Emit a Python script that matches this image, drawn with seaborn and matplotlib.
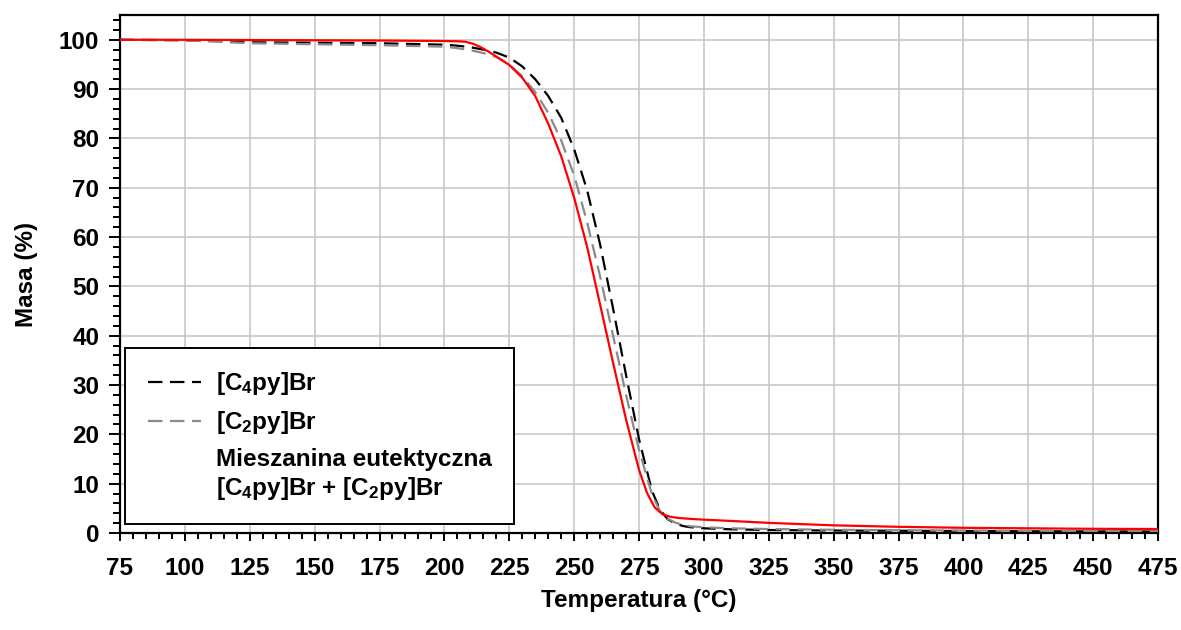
import matplotlib
matplotlib.use("Agg")
import matplotlib.pyplot as plt
import seaborn as sns
import pandas as pd
from matplotlib.ticker import MultipleLocator
from matplotlib.lines import Line2D

# Thermogravimetric curves: mass (%) vs temperature (°C)
temp_c4 = [75, 100, 110, 125, 150, 175, 200, 205, 210, 215, 220, 225, 230, 235, 240,
           245, 250, 255, 260, 265, 270, 275, 280, 283, 286, 289, 292, 295, 300, 310,
           325, 350, 375, 400, 425, 450, 475]
mass_c4 = [100, 99.9, 99.8, 99.5, 99.4, 99.3, 99.0, 98.8, 98.5, 98.0, 97.4, 96.4, 94.6,
           92.0, 88.6, 84.2, 77.8, 69.5, 58.5, 45.5, 32.0, 19.0, 8.5, 4.8, 2.8, 1.9, 1.4,
           1.15, 0.95, 0.75, 0.6, 0.5, 0.45, 0.4, 0.35, 0.32, 0.3]

temp_c2 = [75, 100, 125, 150, 175, 200, 205, 210, 215, 220, 225, 230, 235, 240, 245,
           250, 255, 260, 265, 270, 275, 280, 283, 286, 289, 292, 295, 300, 310, 325,
           350, 375, 400, 425, 450, 475]
mass_c2 = [100, 99.9, 99.3, 99.1, 98.9, 98.6, 98.3, 97.9, 97.3, 96.5, 95.0, 92.6, 89.4,
           85.2, 79.6, 72.5, 63.0, 52.0, 40.0, 28.0, 16.8, 7.8, 4.5, 2.9, 2.1, 1.6, 1.35,
           1.15, 0.95, 0.8, 0.65, 0.55, 0.5, 0.45, 0.42, 0.4]

temp_mix = [75, 100, 125, 150, 175, 200, 205, 208, 211, 214, 217, 220, 225, 230, 235,
            240, 245, 250, 255, 260, 265, 270, 275, 278, 281, 284, 287, 290, 295, 300,
            310, 325, 350, 375, 400, 425, 450, 475]
mass_mix = [100, 100, 99.95, 99.9, 99.85, 99.75, 99.7, 99.6, 99.2, 98.5, 97.6, 96.6, 94.9,
            92.3, 88.6, 83.0, 76.4, 68.0, 58.0, 46.3, 34.5, 23.0, 12.8, 8.2, 5.2, 3.8, 3.3,
            3.05, 2.85, 2.7, 2.45, 2.05, 1.55, 1.25, 1.05, 0.95, 0.85, 0.8]

labels = ["[C$_4$py]Br", "[C$_2$py]Br",
          "Mieszanina eutektyczna\n[C$_4$py]Br + [C$_2$py]Br"]
x_ticks = list(range(75, 476, 25))
y_ticks = list(range(0, 101, 10))

sns.set_theme(style="white")
plt.rcParams.update({
    "font.family": ["Liberation Sans", "DejaVu Sans"],
    "font.weight": "bold",
    "axes.labelweight": "bold",
    "text.color": "black",
    "axes.labelcolor": "black",
    "xtick.color": "black",
    "ytick.color": "black",
    "mathtext.fontset": "custom",
    "mathtext.rm": "Liberation Sans:bold",
    "mathtext.it": "Liberation Sans:bold",
    "mathtext.bf": "Liberation Sans:bold",
})

fig = plt.figure(figsize=(11.81, 6.30), dpi=100)
ax = fig.add_axes([0.1016, 0.154, 0.879, 0.822])

dash = (0, (6.5, 3.4))
df_c4 = pd.DataFrame({"T": temp_c4, "m": mass_c4})
df_c2 = pd.DataFrame({"T": temp_c2, "m": mass_c2})
df_mix = pd.DataFrame({"T": temp_mix, "m": mass_mix})

sns.lineplot(data=df_c4, x="T", y="m", ax=ax, color="black", linestyle=dash,
             linewidth=1.6, sort=False, zorder=3)
sns.lineplot(data=df_c2, x="T", y="m", ax=ax, color="#8a8a8a", linestyle=dash,
             linewidth=1.6, sort=False, zorder=3)
sns.lineplot(data=df_mix, x="T", y="m", ax=ax, color="#ff0000", linestyle="-",
             linewidth=1.6, sort=False, zorder=4)

ax.set_xlim(75, 475)
ax.set_ylim(0, 105)
ax.set_xticks(x_ticks)
ax.set_yticks(y_ticks)
ax.xaxis.set_minor_locator(MultipleLocator(5))
ax.yaxis.set_minor_locator(MultipleLocator(2))

ax.grid(True, which="major", color="#c4c4c4", linewidth=1.1)
ax.set_axisbelow(True)

for side in ["left", "right", "top", "bottom"]:
    ax.spines[side].set_color("black")
    ax.spines[side].set_linewidth(1.6)

ax.tick_params(axis="both", which="both", direction="out", color="black",
               labelcolor="black", width=1.4, labelsize=17.5)
ax.tick_params(axis="both", which="both", bottom=True, left=True)
ax.tick_params(axis="y", which="major", length=8, pad=7)
ax.tick_params(axis="y", which="minor", length=5)
ax.tick_params(axis="x", which="major", length=6, pad=11)
ax.tick_params(axis="x", which="minor", length=4)
for lbl in ax.get_xticklabels() + ax.get_yticklabels():
    lbl.set_fontweight("bold")

ax.set_xlabel("Temperatura (°C)", fontsize=17.5, fontweight="bold", labelpad=7)
ax.set_ylabel("Masa (%)", fontsize=17.5, fontweight="bold", labelpad=15)

handles = [
    Line2D([], [], color="black", linestyle=dash, linewidth=1.6),
    Line2D([], [], color="#8a8a8a", linestyle=dash, linewidth=1.6),
    Line2D([], [], color="none", linewidth=1.6),
]
leg = ax.legend(handles, labels, loc="lower left", bbox_to_anchor=(0.005, 0.017),
                borderaxespad=0, handlelength=2.2, handletextpad=0.6,
                labelspacing=0.48, borderpad=0.92, fancybox=False, framealpha=1,
                edgecolor="black", prop={"weight": "bold", "size": 17.5})
leg.get_frame().set_linewidth(1.4)

fig.savefig("out.png", dpi=100)
